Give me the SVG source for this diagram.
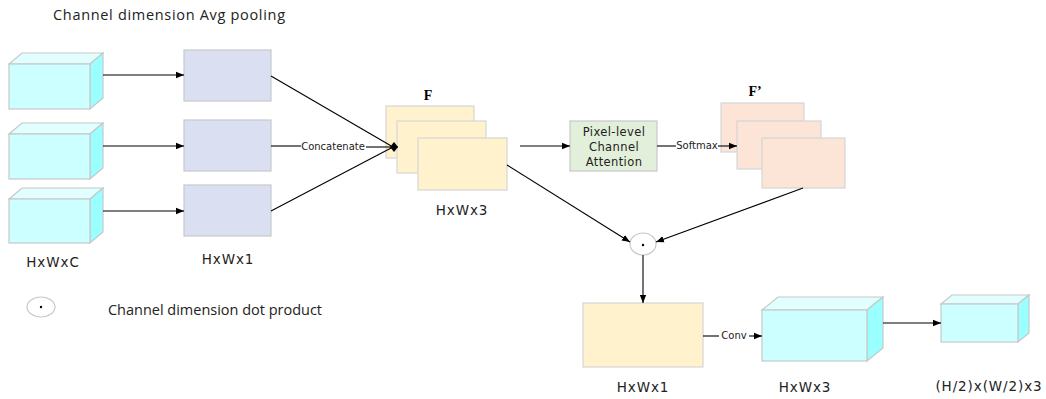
<svg xmlns="http://www.w3.org/2000/svg" width="1046" height="399" viewBox="0 0 1046 399">
  <defs>
    <marker id="arr" viewBox="0 0 10 10" refX="10" refY="5" markerWidth="8" markerHeight="8" markerUnits="userSpaceOnUse" orient="auto">
      <path d="M0,1 L10,5 L0,9 Z" fill="#000"/>
    </marker>
    <marker id="dia" viewBox="0 0 10 10" refX="9" refY="5" markerWidth="10" markerHeight="10" markerUnits="userSpaceOnUse" orient="0">
      <path d="M5,0 L9,5 L5,10 L1,5 Z" fill="#000"/>
    </marker>
  </defs>
  <style>
    .front { fill: #CCFFFF; stroke: #C8C8C8; stroke-width: 1.2; }
    .side { fill: #99FFFF; stroke: #C8C8C8; stroke-width: 1.2; }
    .top { fill: #E2FFFF; stroke: #C8C8C8; stroke-width: 1.2; }
    .pool { fill: #DAE0F2; stroke: #C8C8C8; stroke-width: 1.2; }
    .feat { fill: #FFF2CC; stroke: #D6D6D6; stroke-width: 1.2; }
    .att { fill: #E2EFDA; stroke: #C8C8C8; stroke-width: 1.2; }
    .soft { fill: #FCE4D6; stroke: #D6D6D6; stroke-width: 1.2; }
    .dot { fill: #FFFFFF; stroke: #C8C8C8; stroke-width: 1.2; }
    .ln { fill: none; stroke: #000; stroke-width: 1.1; }
    .lbl { font-family: "DejaVu Sans", Verdana, sans-serif; font-size: 13.5px; letter-spacing: 0.9px; fill: #222; text-anchor: middle; }
    .note { font-family: "Open Sans", "Noto Sans", sans-serif; font-size: 14.5px; fill: #222; }
    .small { font-family: "DejaVu Sans", Verdana, sans-serif; font-size: 10px; fill: #222; text-anchor: middle; }
    .mid { font-family: "DejaVu Sans", Verdana, sans-serif; font-size: 11.5px; letter-spacing: 0.4px; fill: #222; text-anchor: middle; }
    .big { font-family: "Liberation Serif", "DejaVu Serif", serif; font-size: 14px; font-weight: bold; fill: #000; text-anchor: middle; }
  </style>

  <text class="note" x="53" y="20" textLength="232" lengthAdjust="spacing">Channel dimension Avg pooling</text>

  <!-- input feature cubes -->
  <g id="input1">
    <polygon class="top" points="9,64 22,53 103,53 90,64"/>
    <polygon class="side" points="90,64 103,53 103,98 90,109"/>
    <rect class="front" x="9" y="64" width="81" height="45"/>
  </g>
  <g id="input2">
    <polygon class="top" points="9,134 22,123 103,123 90,134"/>
    <polygon class="side" points="90,134 103,123 103,168 90,179"/>
    <rect class="front" x="9" y="134" width="81" height="45"/>
  </g>
  <g id="input3">
    <polygon class="top" points="9,199 22,188 103,188 90,199"/>
    <polygon class="side" points="90,199 103,188 103,232 90,243"/>
    <rect class="front" x="9" y="199" width="81" height="44"/>
  </g>
  <text class="lbl" x="53" y="267">HxWxC</text>

  <!-- pooled maps -->
  <g id="pool1"><rect class="pool" x="184" y="50" width="87" height="51"/></g>
  <g id="pool2"><rect class="pool" x="184" y="120" width="87" height="51"/></g>
  <g id="pool3"><rect class="pool" x="184" y="185" width="87" height="51"/></g>
  <text class="lbl" x="228" y="264">HxWx1</text>

  <!-- stacked feature F -->
  <g id="F">
    <text class="big" x="428" y="100">F</text>
    <rect class="feat" x="386" y="106" width="88" height="52"/>
    <rect class="feat" x="397" y="121" width="89" height="52"/>
    <rect class="feat" x="418" y="138" width="89" height="52"/>
    <text class="lbl" x="462" y="215">HxWx3</text>
  </g>

  <!-- attention block -->
  <g id="attention">
    <rect class="att" x="570" y="121" width="87" height="50"/>
    <text class="mid" x="614" y="136">Pixel-level</text>
    <text class="mid" x="614" y="151">Channel</text>
    <text class="mid" x="614" y="166">Attention</text>
  </g>

  <!-- stacked weights F' -->
  <g id="Fprime">
    <text class="big" x="755" y="96">F’</text>
    <rect class="soft" x="721" y="103" width="83" height="49"/>
    <rect class="soft" x="737" y="121" width="84" height="48"/>
    <rect class="soft" x="762" y="138" width="83" height="50"/>
  </g>

  <!-- dot product operator -->
  <g id="dotop">
    <ellipse class="dot" cx="643" cy="244" rx="13" ry="11"/>
    <circle cx="643" cy="245" r="1.2" fill="#000"/>
  </g>

  <!-- fused map -->
  <g id="fused">
    <rect class="feat" x="583" y="303" width="120" height="64"/>
    <text class="lbl" x="643" y="392">HxWx1</text>
  </g>

  <!-- conv output cube -->
  <g id="convout">
    <polygon class="top" points="762,310 778,297 883,297 867,310"/>
    <polygon class="side" points="867,310 883,297 883,348 867,361"/>
    <rect class="front" x="762" y="310" width="105" height="51"/>
    <text class="lbl" x="805" y="392">HxWx3</text>
  </g>

  <!-- downsampled cube -->
  <g id="output">
    <polygon class="top" points="941,304 952,295 1029,295 1018,304"/>
    <polygon class="side" points="1018,304 1029,295 1029,333 1018,342"/>
    <rect class="front" x="941" y="304" width="77" height="38"/>
    <text class="lbl" x="989" y="391">(H/2)x(W/2)x3</text>
  </g>

  <!-- legend -->
  <g id="legend">
    <ellipse class="dot" cx="41" cy="307" rx="14" ry="10"/>
    <circle cx="41" cy="307" r="1.2" fill="#000"/>
    <text class="note" x="108" y="315" textLength="214" lengthAdjust="spacing">Channel dimension dot product</text>
  </g>

  <!-- connectors -->
  <g id="connectors">
    <line class="ln" x1="103" y1="75" x2="184" y2="75" marker-end="url(#arr)"/>
    <line class="ln" x1="103" y1="146" x2="184" y2="146" marker-end="url(#arr)"/>
    <line class="ln" x1="103" y1="211" x2="184" y2="211" marker-end="url(#arr)"/>

    <line class="ln" x1="271" y1="76" x2="393" y2="147"/>
    <line class="ln" x1="271" y1="211" x2="393" y2="147"/>
    <line class="ln" x1="271" y1="146" x2="301" y2="146"/>
    <line class="ln" x1="366" y1="147" x2="398" y2="147" marker-end="url(#dia)"/>
    <text class="small" x="333" y="150">Concatenate</text>

    <line class="ln" x1="520" y1="146" x2="570" y2="146" marker-end="url(#arr)"/>

    <line class="ln" x1="657" y1="146" x2="676" y2="146"/>
    <line class="ln" x1="718" y1="146" x2="737" y2="146" marker-end="url(#arr)"/>
    <text class="small" x="697" y="149">Softmax</text>

    <line class="ln" x1="507" y1="165" x2="630" y2="242" marker-end="url(#arr)"/>
    <line class="ln" x1="803" y1="188" x2="656" y2="242" marker-end="url(#arr)"/>

    <line class="ln" x1="643" y1="255" x2="643" y2="303" marker-end="url(#arr)"/>

    <line class="ln" x1="703" y1="336" x2="719" y2="336"/>
    <line class="ln" x1="749" y1="336" x2="762" y2="336" marker-end="url(#arr)"/>
    <text class="small" x="734" y="339">Conv</text>

    <line class="ln" x1="883" y1="323" x2="941" y2="323" marker-end="url(#arr)"/>
  </g>
</svg>
